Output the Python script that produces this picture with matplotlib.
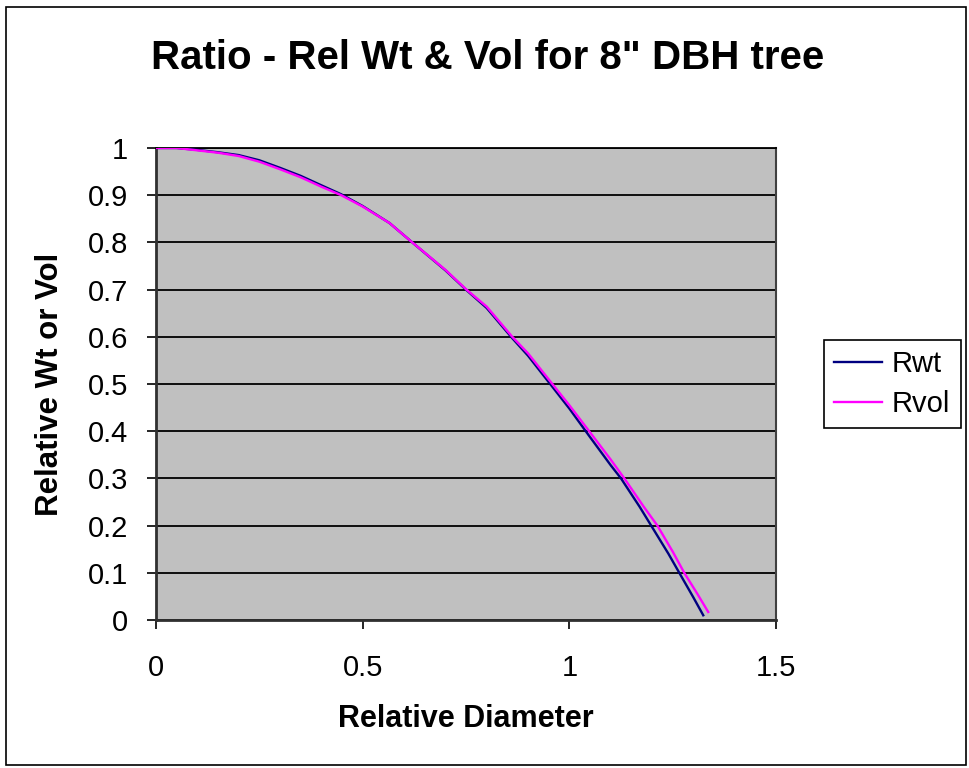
"""Ratio of relative weight and volume against relative diameter for an 8" DBH tree."""

import matplotlib

matplotlib.use("Agg")
import matplotlib.pyplot as plt
from matplotlib.patches import Rectangle

# Values.
X_RWT = [0.0, 0.05, 0.1, 0.15, 0.2, 0.25, 0.3, 0.35, 0.4, 0.448, 0.5, 0.565,
         0.62, 0.7, 0.751, 0.8, 0.862, 0.9, 0.959, 1.0, 1.048, 1.1, 1.125,
         1.17, 1.198, 1.24, 1.266, 1.30, 1.324]
RWT = [1.0, 1.0, 0.996, 0.991, 0.985, 0.974, 0.958, 0.941, 0.921, 0.902,
       0.877, 0.841, 0.8, 0.741, 0.699, 0.661, 0.597, 0.56, 0.494, 0.448,
       0.39, 0.328, 0.3, 0.24, 0.2, 0.14, 0.1, 0.048, 0.01]

X_RVOL = [0.0, 0.05, 0.1, 0.15, 0.2, 0.25, 0.3, 0.35, 0.4, 0.448, 0.5, 0.565,
          0.62, 0.7, 0.751, 0.8, 0.862, 0.9, 0.959, 1.0, 1.048, 1.1, 1.133,
          1.18, 1.213, 1.25, 1.278, 1.31, 1.336]
RVOL = [1.0, 1.0, 0.995, 0.99, 0.983, 0.971, 0.955, 0.938, 0.918, 0.9, 0.876,
        0.841, 0.8, 0.742, 0.7, 0.664, 0.6, 0.565, 0.5, 0.455, 0.4, 0.34, 0.3,
        0.24, 0.2, 0.145, 0.1, 0.055, 0.017]

X_TICKS = [0, 0.5, 1, 1.5]
X_TICK_LABELS = ["0", "0.5", "1", "1.5"]
Y_TICKS = [0, 0.1, 0.2, 0.3, 0.4, 0.5, 0.6, 0.7, 0.8, 0.9, 1]
Y_TICK_LABELS = ["0", "0.1", "0.2", "0.3", "0.4", "0.5", "0.6", "0.7", "0.8", "0.9", "1"]

W, H = 969, 768

plt.rcParams["font.family"] = ["Liberation Sans", "DejaVu Sans"]

fig = plt.figure(figsize=(W / 100, H / 100), dpi=100)
ax = fig.add_axes([156 / W, 1 - 620 / H, (776 - 156) / W, (620 - 148) / H])
ax.set_facecolor("#C0C0C0")

ax.plot(X_RWT, RWT, color="#000080", lw=1.7, label="Rwt", zorder=3)
ax.plot(X_RVOL, RVOL, color="#FF00FF", lw=1.7, label="Rvol", zorder=3)

ax.set_xlim(0, 1.5)
ax.set_ylim(0, 1)
ax.set_xticks(X_TICKS, X_TICK_LABELS)
ax.set_yticks(Y_TICKS, Y_TICK_LABELS)
ax.yaxis.grid(True, color="#000000", lw=1.3)
ax.set_axisbelow(True)

ax.tick_params(axis="both", direction="out", length=6.5, width=1.2,
               color="#000000", labelsize=21)
ax.tick_params(axis="x", pad=18)
ax.tick_params(axis="y", pad=13.5)

for side in ("left", "bottom"):
    ax.spines[side].set_color("#303030")
    ax.spines[side].set_linewidth(2)
ax.spines["right"].set_color("#404040")
ax.spines["right"].set_linewidth(1.5)
ax.spines["top"].set_color("#000000")
ax.spines["top"].set_linewidth(1.3)

ax.set_xlabel("Relative Diameter", fontsize=22, fontweight="bold")
ax.xaxis.set_label_coords(0.5, (620 - 719) / 472)
ax.xaxis.label.set_va("center")
ax.set_ylabel("Relative Wt or Vol", fontsize=22.5, fontweight="bold")
ax.yaxis.set_label_coords((50 - 156) / 620, 0.5)
ax.yaxis.label.set_va("center")

fig.text(488 / W, 1 - 58 / H, 'Ratio - Rel Wt & Vol for 8" DBH tree',
         fontsize=29, fontweight="bold", ha="center", va="center")

leg = ax.legend(loc="center left", bbox_to_anchor=(824 / W, 1 - 384 / H),
                bbox_transform=fig.transFigure, fontsize=21, frameon=True,
                fancybox=False, shadow=False, borderaxespad=0, borderpad=0.35,
                handlelength=1.65, handletextpad=0.33, labelspacing=0.4)
leg.get_frame().set_edgecolor("#000000")
leg.get_frame().set_linewidth(1.2)
leg.get_frame().set_facecolor("white")
leg.get_frame().set_alpha(1)

fig.patches.append(Rectangle((6 / W, 3 / H), (966 - 6) / W, (H - 10) / H,
                             transform=fig.transFigure, fill=False,
                             edgecolor="#000000", lw=1.2))

fig.savefig("out.png", dpi=100)
